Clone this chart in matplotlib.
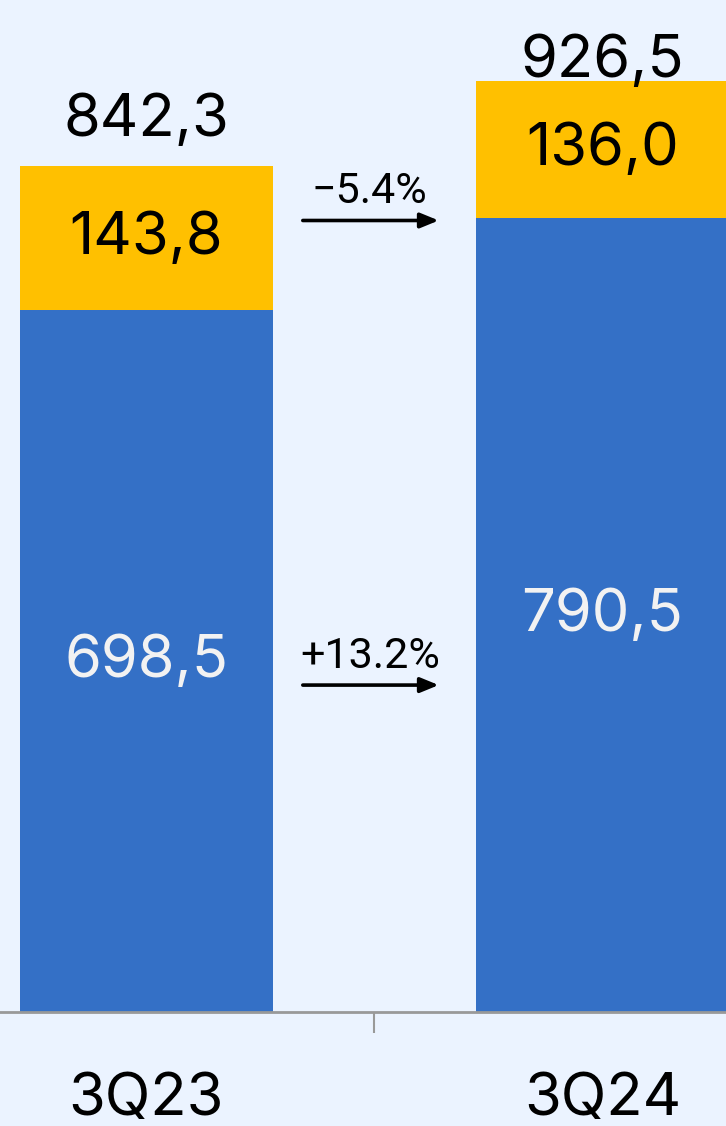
import matplotlib.pyplot as plt
import numpy as np

# Datos
quarters = ["3Q23", "3Q24"]
base = [698.5, 790.5]        # segmento azul
extra = [143.8, 136.0]       # segmento amarillo
totals = [842.3, 926.5]
base_labels = ["698,5", "790,5"]
extra_labels = ["143,8", "136,0"]
total_labels = ["842,3", "926,5"]
changes = ["−5.4%", "+13.2%"]  # amarillo, azul

bg = "#EBF3FF"
blue = "#3470C6"
yellow = "#FFC000"

fig = plt.figure(figsize=(7.26, 11.26), dpi=100, facecolor=bg)
ax = fig.add_axes([0, 0.1012, 1, 0.8988])
ax.set_facecolor(bg)

x = np.arange(len(quarters))
w = 0.555
ax.bar(x, base, width=w, color=blue, edgecolor="none")
ax.bar(x, extra, width=w, bottom=base, color=yellow, edgecolor="none")

ax.set_xlim(-0.321, 1.271)
ax.set_ylim(0, 1007.5)

font = "Inter"
fs = 43
for i in range(len(quarters)):
    ax.text(x[i], base[i] / 2, base_labels[i], ha="center", va="center",
            fontsize=fs, color="#F2F2F2", family=font)
    ax.text(x[i], base[i] + extra[i] / 2, extra_labels[i], ha="center", va="center",
            fontsize=fs, color="black", family=font)
    ty = min(totals[i] + 30, 931)
    ax.text(x[i], ty, total_labels[i], ha="center", va="baseline",
            fontsize=fs, color="black", family=font)

# Flechas de variación
arrow_y = [788, 325.5]
for lbl, ay in zip(changes, arrow_y):
    ax.annotate("", xy=(0.641, ay), xytext=(0.343, ay),
                arrowprops=dict(arrowstyle="-|>,head_length=1.1,head_width=0.45",
                                color="black", lw=2.6, shrinkA=0, shrinkB=0))
    ax.text(0.49, ay + 17, lbl, ha="center", va="baseline", fontsize=31,
            color="black", family="Roboto")

for s in ["top", "right", "left"]:
    ax.spines[s].set_visible(False)
ax.spines["bottom"].set_color("#999999")
ax.spines["bottom"].set_linewidth(2)
ax.set_yticks([])
ax.set_xticks([0.5])
ax.set_xticklabels([""])
ax.tick_params(axis="x", length=15, width=1.5, color="#999999")
for i, q in enumerate(quarters):
    ax.text(x[i], -60, q, ha="center", va="top", fontsize=fs,
            color="black", family=font, clip_on=False)

fig.savefig("out.png", dpi=100, facecolor=bg)
